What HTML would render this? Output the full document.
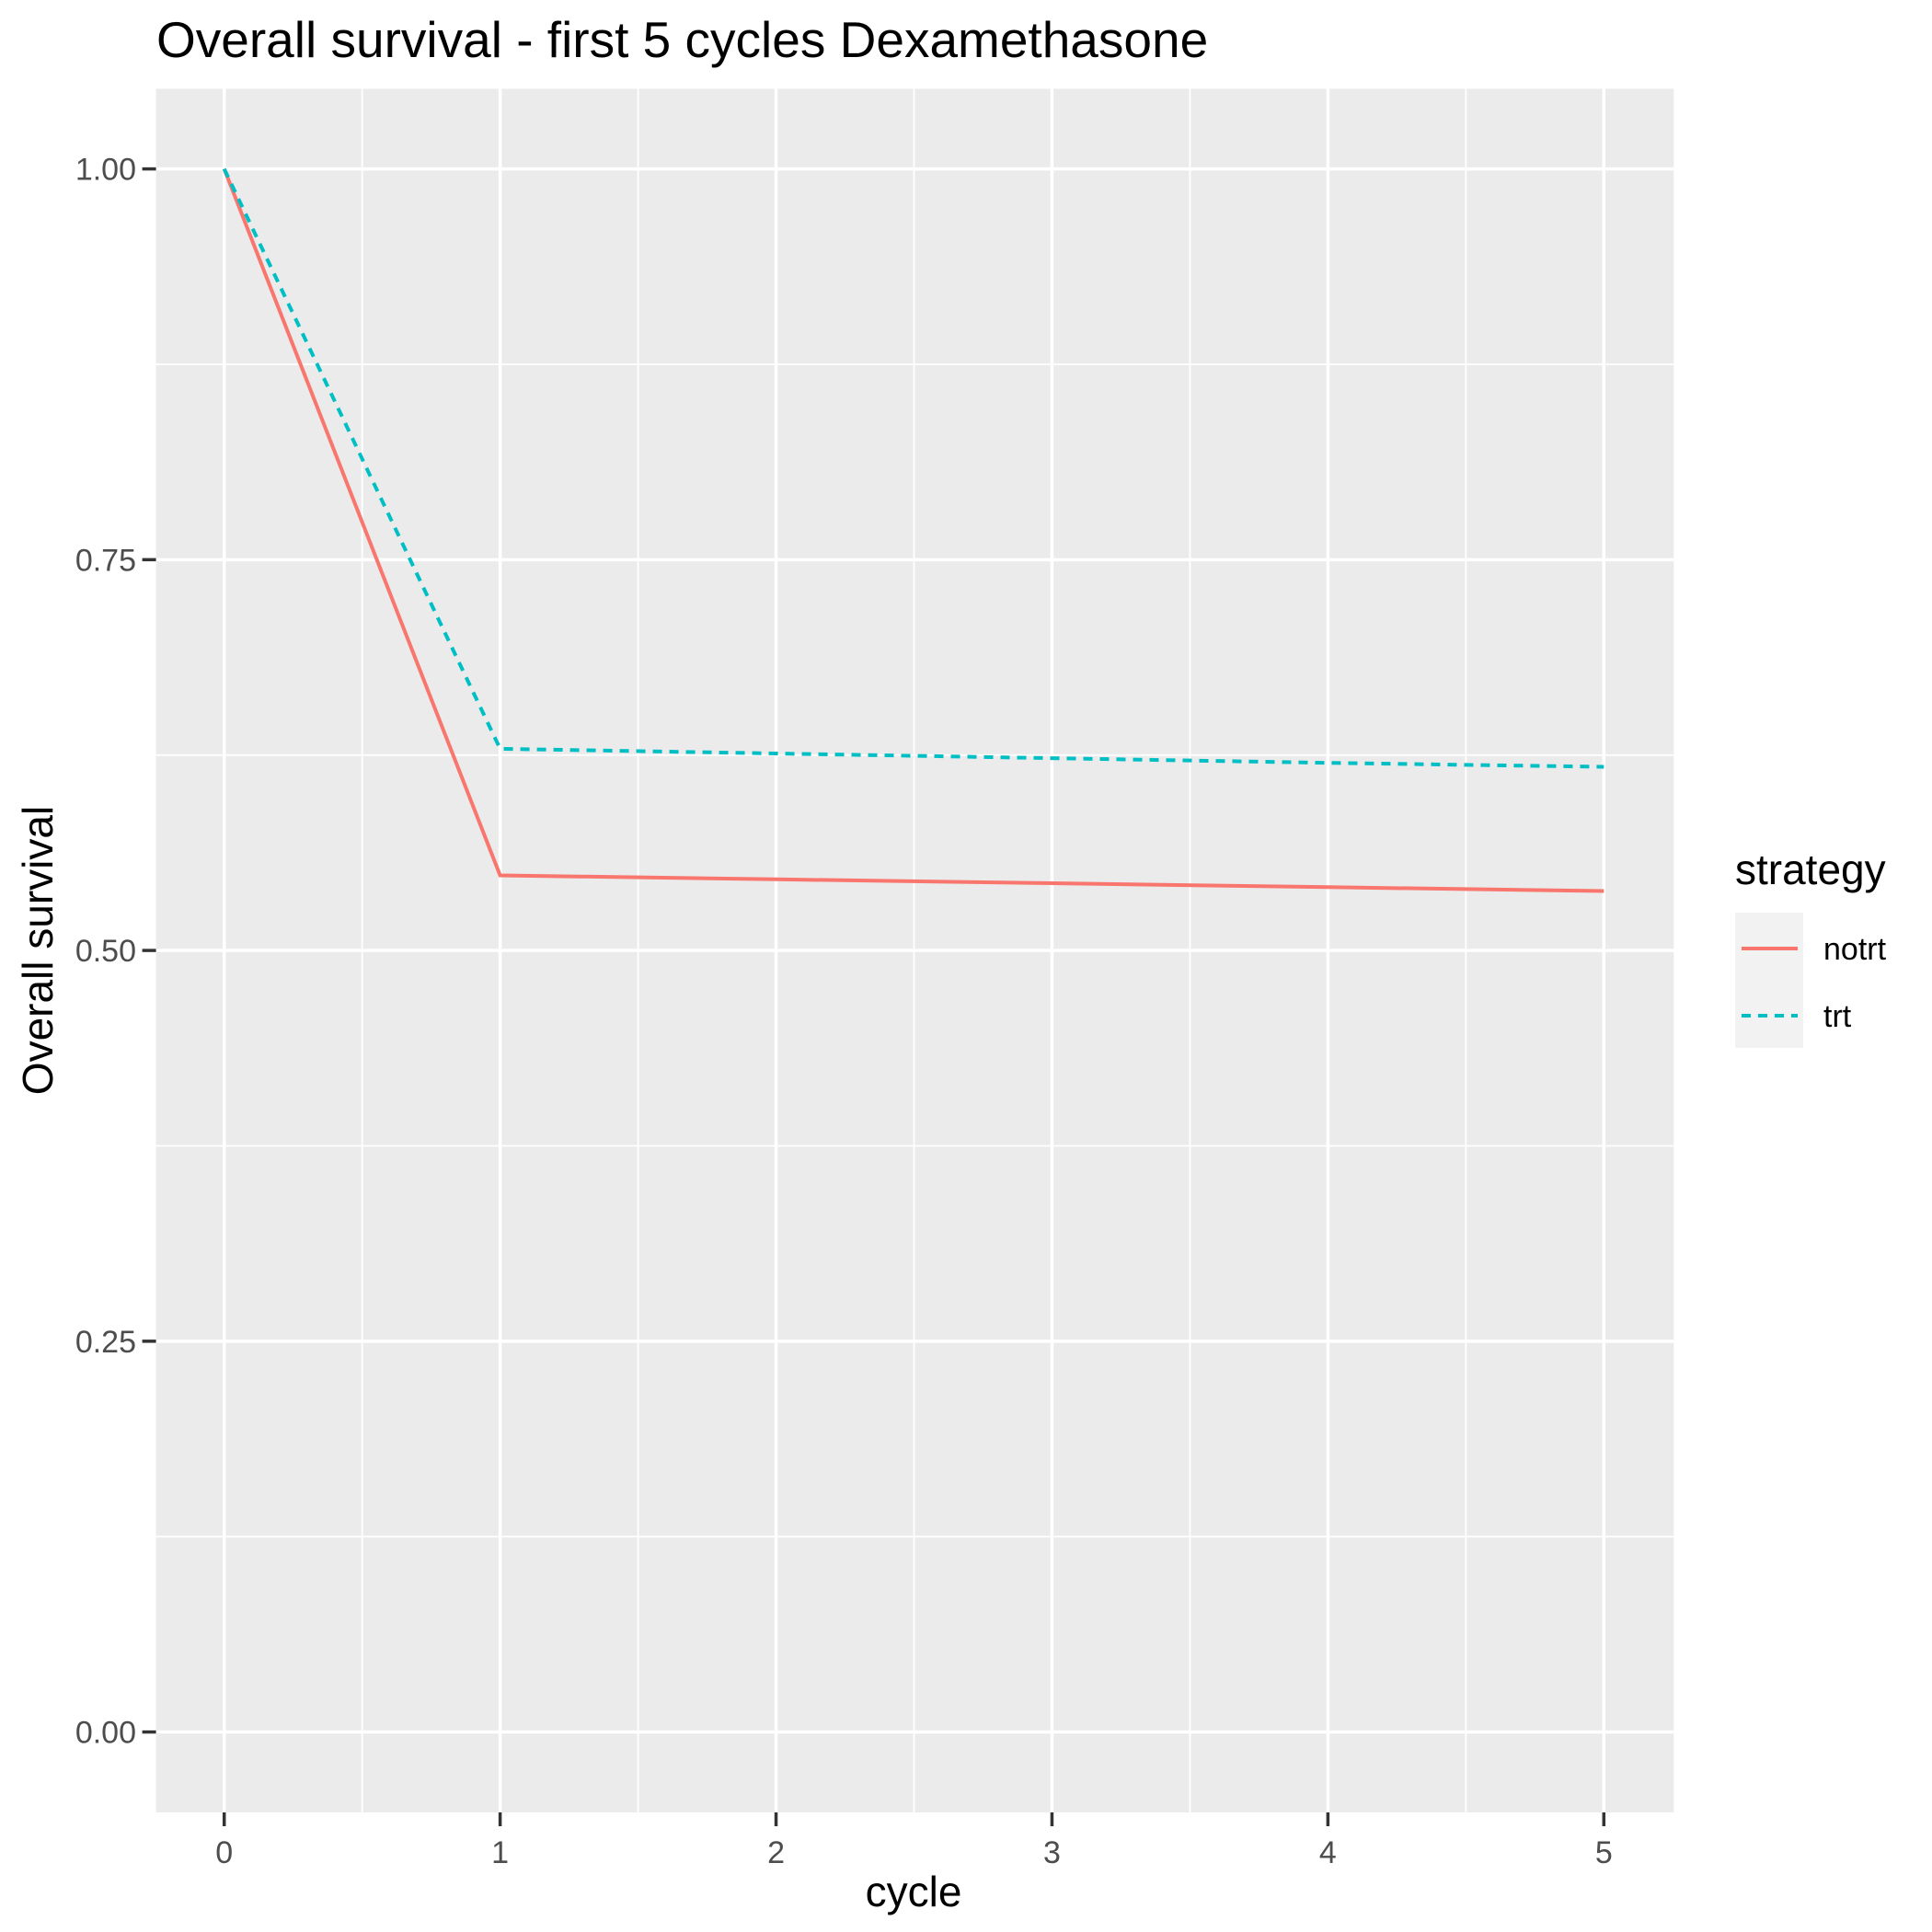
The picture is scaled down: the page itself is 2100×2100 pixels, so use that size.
<!DOCTYPE html>
<html><head><meta charset="utf-8"><style>
html,body{margin:0;padding:0;background:#fff;}
svg{display:block;font-family:"Liberation Sans",sans-serif;}
</style></head><body>
<svg id="chart" width="2100" height="2100" viewBox="0 0 2100 2100" xmlns="http://www.w3.org/2000/svg">
<text x="170" y="62" font-size="55" fill="#000">Overall survival - first 5 cycles Dexamethasone</text>
<rect x="169.6" y="96.5" width="1649.7" height="1873.5" fill="#EBEBEB"/>
<g id="grid"></g>
<g id="series"></g>
<g id="axes"></g>
<text x="993" y="2072" font-size="46" text-anchor="middle" fill="#000">cycle</text>
<text transform="translate(57,1033) rotate(-90)" font-size="46" text-anchor="middle" fill="#000">Overall survival</text>
<g transform="translate(-9,-5)">
<text x="1895" y="966" font-size="46" fill="#000">strategy</text>
<rect x="1895" y="997" width="74" height="147" fill="#F2F2F2"/>
<line x1="1902" y1="1036" x2="1963" y2="1036" stroke="#F8766D" stroke-width="4"/>
<line x1="1902" y1="1109" x2="1963" y2="1109" stroke="#00BFC4" stroke-width="4" stroke-dasharray="10,8"/>
<text x="1991" y="1048" font-size="34" fill="#000">notrt</text>
<text x="1991" y="1121" font-size="34" fill="#000">trt</text>
</g>
</svg>
<script>
const cycles = [0, 1, 2, 3, 4, 5];
const notrtValues = [1.0, 0.548, 0.5455, 0.543, 0.5405, 0.538];
const trtValues = [1.0, 0.629, 0.626, 0.623, 0.620, 0.6175];
const xTicks = [0, 1, 2, 3, 4, 5];
const yTicks = [0, 0.25, 0.5, 0.75, 1.0];
const yTickLabels = ["0.00", "0.25", "0.50", "0.75", "1.00"];

const NS = "http://www.w3.org/2000/svg";
const px0 = 169.6, px1 = 1819.3, py0 = 96.5, py1 = 1970;
function xs(v){ return 243.7 + (v - 0) * (1743.3 - 243.7) / 5; }
function ys(v){ return 1882.6 - v * (1882.6 - 183.6); }
function mk(tag, attrs, parent){
  const e = document.createElementNS(NS, tag);
  for (const k in attrs) e.setAttribute(k, attrs[k]);
  parent.appendChild(e); return e;
}
const grid = document.getElementById('grid');
const axes = document.getElementById('axes');
const series = document.getElementById('series');
for (let i = 0; i < xTicks.length - 1; i++) {
  const x = xs((xTicks[i] + xTicks[i+1]) / 2);
  const l = mk('line', {x1:x, x2:x, y1:py0, y2:py1, stroke:'#fff', 'stroke-width':1.8}, grid);
  
  
}
for (let i = 0; i < yTicks.length - 1; i++) {
  const y = ys((yTicks[i] + yTicks[i+1]) / 2);
  const l = mk('line', {x1:px0, x2:px1, y1:y, y2:y, stroke:'#fff', 'stroke-width':1.8}, grid);
  
  
}
xTicks.forEach(v => {
  const x = xs(v);
  const g = mk('line', {x1:x, x2:x, y1:py0, y2:py1, stroke:'#fff', 'stroke-width':3.5}, grid);
  
  
  const t = mk('line', {x1:x, x2:x, y1:py1, y2:py1 + 15, stroke:'#333', 'stroke-width':3.5}, axes);
  
  
  const tx = mk('text', {x:x, y:2025, 'font-size':34, 'text-anchor':'middle', fill:'#4D4D4D'}, axes);
  tx.textContent = String(v);
  
  
});
yTicks.forEach((v, i) => {
  const y = ys(v);
  const g = mk('line', {x1:px0, x2:px1, y1:y, y2:y, stroke:'#fff', 'stroke-width':3.5}, grid);
  
  
  const t = mk('line', {x1:px0 - 15, x2:px0, y1:y, y2:y, stroke:'#333', 'stroke-width':3.5}, axes);
  
  
  const tx = mk('text', {x:148, y:y + 12, 'font-size':34, 'text-anchor':'end', fill:'#4D4D4D'}, axes);
  tx.textContent = yTickLabels[i];
  
  
});
function path(vals){ return cycles.map((c, i) => (i ? 'L' : 'M') + xs(c).toFixed(1) + ',' + ys(vals[i]).toFixed(1)).join(' '); }
const p1 = mk('path', {d:path(notrtValues), fill:'none', stroke:'#F8766D', 'stroke-width':4}, series);


const p2 = mk('path', {d:path(trtValues), fill:'none', stroke:'#00BFC4', 'stroke-width':4, 'stroke-dasharray':'10,8'}, series);


</script>
</body></html>
